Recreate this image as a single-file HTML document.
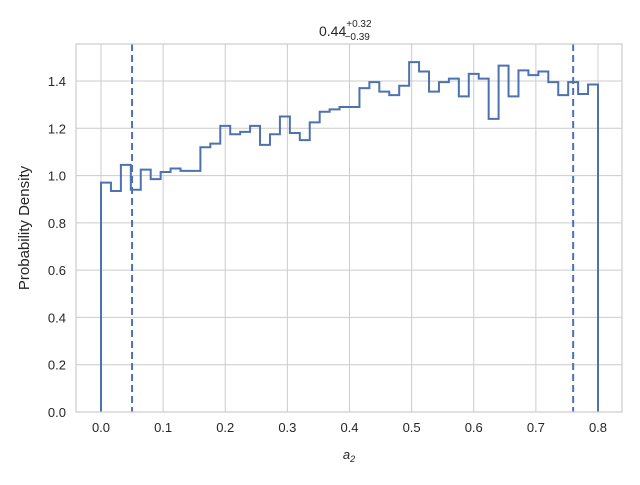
<!DOCTYPE html>
<html><head><meta charset="utf-8"><style>
body{margin:0;background:#fff}
svg text{font-family:"Liberation Sans","DejaVu Sans",sans-serif;fill:#262626}
</style></head><body>
<svg id="chart" width="640" height="480" xmlns="http://www.w3.org/2000/svg">
<g id="grid"></g>
<g id="ticks"></g>
<path id="hist" fill="none" stroke="#4c72b0" stroke-width="2"/>
<g id="quant"></g>
<rect x="76" y="44" width="546" height="368" fill="none" stroke="#cccccc" stroke-width="1.2"/>
<text x="29" y="228" font-size="15" text-anchor="middle" transform="rotate(-90 29 228)">Probability Density</text>
<text x="349" y="459" font-size="13" font-style="italic" text-anchor="middle">a<tspan font-size="9" dy="3">2</tspan></text>
<text x="319" y="36" font-size="14">0.44<tspan font-size="10" dy="-9">+0.32</tspan><tspan font-size="10" dx="-27" dy="13">−0.39</tspan></text>
</svg>
<script>
const densities=[0.97,0.935,1.045,0.94,1.025,0.985,1.015,1.03,1.02,1.02,1.12,1.135,1.21,1.175,1.185,1.21,1.13,1.175,1.25,1.18,1.15,1.225,1.27,1.28,1.29,1.29,1.37,1.395,1.355,1.34,1.38,1.48,1.44,1.355,1.395,1.41,1.335,1.43,1.41,1.24,1.465,1.335,1.445,1.425,1.44,1.395,1.34,1.395,1.345,1.385];
const binStart=0, binEnd=0.8;
const quantiles=[0.05,0.76];
const xTicks=[0,0.1,0.2,0.3,0.4,0.5,0.6,0.7,0.8];
const yTicks=[0,0.2,0.4,0.6,0.8,1.0,1.2,1.4];
const X=v=>101+v*(598-101)/0.8;
const Y=v=>412-v*(331/1.4);
const NS="http://www.w3.org/2000/svg";
const grid=document.getElementById('grid'),ticks=document.getElementById('ticks');
function mk(tag,attrs,parent){const e=document.createElementNS(NS,tag);for(const k in attrs)e.setAttribute(k,attrs[k]);parent.appendChild(e);return e;}
xTicks.forEach(t=>{
  const l=mk('line',{x1:X(t),x2:X(t),y1:44,y2:412,stroke:'#cccccc','stroke-width':1},grid);
  
  
  const tx=mk('text',{x:X(t),y:432,'font-size':13,'text-anchor':'middle'},ticks);
  tx.textContent=t.toFixed(1);
  
  
});
yTicks.forEach(t=>{
  const l=mk('line',{x1:76,x2:622,y1:Y(t),y2:Y(t),stroke:'#cccccc','stroke-width':1},grid);
  
  
  const tx=mk('text',{x:66,y:Y(t)+5,'font-size':13,'text-anchor':'end'},ticks);
  tx.textContent=t.toFixed(1);
  
  
});
const w=(binEnd-binStart)/densities.length;
let d='M'+X(binStart)+','+Y(0);
densities.forEach((v,i)=>{d+=' L'+X(binStart+i*w)+','+Y(v)+' L'+X(binStart+(i+1)*w)+','+Y(v);});
d+=' L'+X(binEnd)+','+Y(0);
document.getElementById('hist').setAttribute('d',d);
const q=document.getElementById('quant');
quantiles.forEach(v=>{
  const l=mk('line',{x1:X(v),x2:X(v),y1:44,y2:412,stroke:'#4c72b0','stroke-width':2,'stroke-dasharray':'7,4'},q);
  
  
});
</script>
</body></html>
